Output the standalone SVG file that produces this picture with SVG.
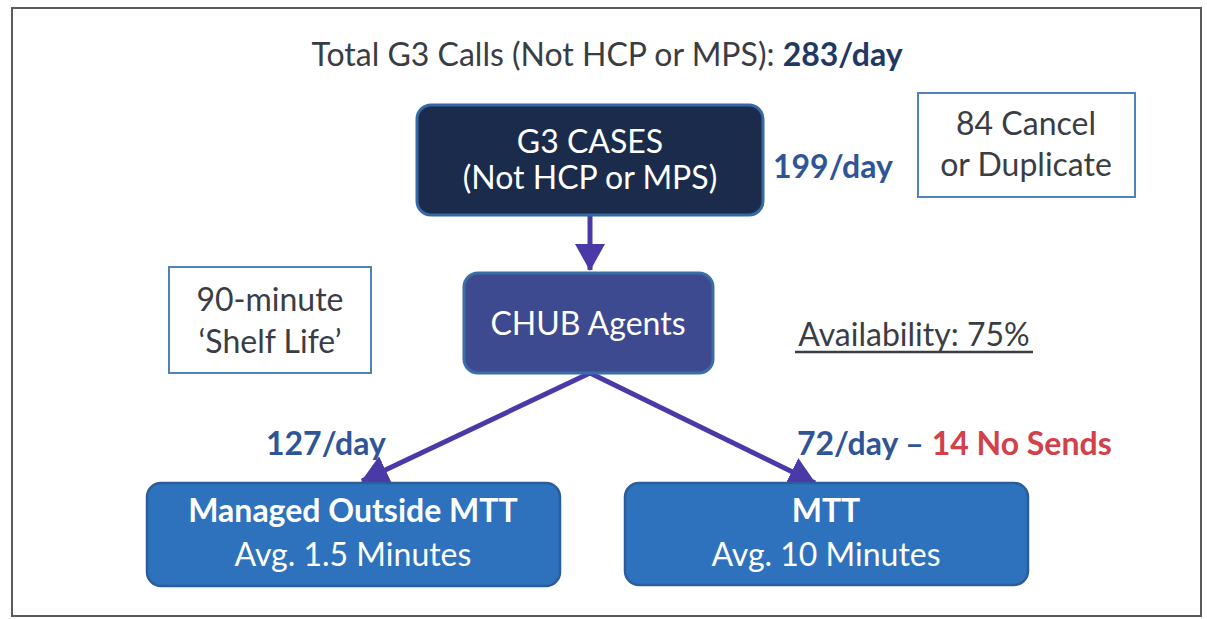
<svg xmlns="http://www.w3.org/2000/svg" width="1207" height="619" viewBox="0 0 1207 619">
<defs>
<style>
text{font-family:Lato,"Open Sans","Liberation Sans",sans-serif;}
.dark{fill:#3a3d44;font-size:32px;}
.white{fill:#ffffff;font-size:32px;}
.blue{fill:#2f5597;font-size:32px;font-weight:bold;}
.red{fill:#d2404a;font-weight:bold;}
.note{fill:#ffffff;stroke:#4f81bd;stroke-width:2;}
.conn{stroke:#4a3aa8;stroke-width:5;fill:none;}
</style>
<marker id="ah" markerWidth="6" markerHeight="6" refX="5.2" refY="3" orient="auto" markerUnits="strokeWidth">
<path d="M0,0 L5.4,3 L0,6 Z" fill="#4a3aa8"/>
</marker>
</defs>
<rect x="0" y="0" width="1207" height="619" fill="#ffffff"/>
<rect x="12" y="8" width="1189" height="608" fill="none" stroke="#5a5a5a" stroke-width="2"/>
<g id="title">
<text x="607" y="66" text-anchor="middle" class="dark" font-size="32.5">Total G3 Calls (Not HCP or MPS): <tspan font-weight="bold" fill="#1f3864">283/day</tspan></text>
</g>
<g id="connectors">
<line class="conn" x1="590" y1="215" x2="590" y2="270" marker-end="url(#ah)"/>
<line class="conn" x1="590" y1="373" x2="362" y2="481" marker-end="url(#ah)"/>
<line class="conn" x1="590" y1="373" x2="815" y2="483" marker-end="url(#ah)"/>
</g>
<g id="g3cases">
<rect x="417" y="105" width="346" height="110" rx="14" fill="#1b2b4c" stroke="#3767a6" stroke-width="3"/>
<text x="590" y="153" text-anchor="middle" class="white">G3 CASES</text>
<text x="590" y="189" text-anchor="middle" class="white">(Not HCP or MPS)</text>
</g>
<g id="rate199">
<text x="773" y="178" class="blue">199/day</text>
</g>
<g id="cancel">
<rect x="918" y="93" width="217" height="104" class="note"/>
<text x="1026" y="135" text-anchor="middle" class="dark">84 Cancel</text>
<text x="1026" y="176" text-anchor="middle" class="dark">or Duplicate</text>
</g>
<g id="shelf">
<rect x="169" y="267" width="202" height="106" class="note"/>
<text x="270" y="311" text-anchor="middle" class="dark">90-minute</text>
<text x="270" y="353" text-anchor="middle" class="dark">‘Shelf Life’</text>
</g>
<g id="chub">
<rect x="464" y="273" width="249" height="100" rx="14" fill="#3d4a8f" stroke="#3a6ea8" stroke-width="3"/>
<text x="588" y="335" text-anchor="middle" class="white" font-size="31">CHUB Agents</text>
</g>
<g id="availability">
<text x="914" y="346" text-anchor="middle" class="dark" font-size="33">Availability: 75%</text>
<line x1="795" y1="352" x2="1033" y2="352" stroke="#3a3d44" stroke-width="2.5"/>
</g>
<g id="rate127">
<text x="266" y="455" class="blue">127/day</text>
</g>
<g id="rate72">
<text x="797" y="455" class="blue">72/day – <tspan class="red">14 No Sends</tspan></text>
</g>
<g id="managed">
<rect x="147" y="483" width="413" height="103" rx="14" fill="#2e72bd" stroke="#2a5d9a" stroke-width="2.5"/>
<text x="353" y="522" text-anchor="middle" class="white" font-size="31" font-weight="bold">Managed Outside MTT</text>
<text x="353" y="566" text-anchor="middle" class="white" font-size="31">Avg. 1.5 Minutes</text>
</g>
<g id="mtt">
<rect x="625" y="483" width="403" height="102" rx="14" fill="#2e72bd" stroke="#2a5d9a" stroke-width="2.5"/>
<text x="826" y="522" text-anchor="middle" class="white" font-size="31" font-weight="bold">MTT</text>
<text x="826" y="566" text-anchor="middle" class="white" font-size="31">Avg. 10 Minutes</text>
</g>
</svg>
